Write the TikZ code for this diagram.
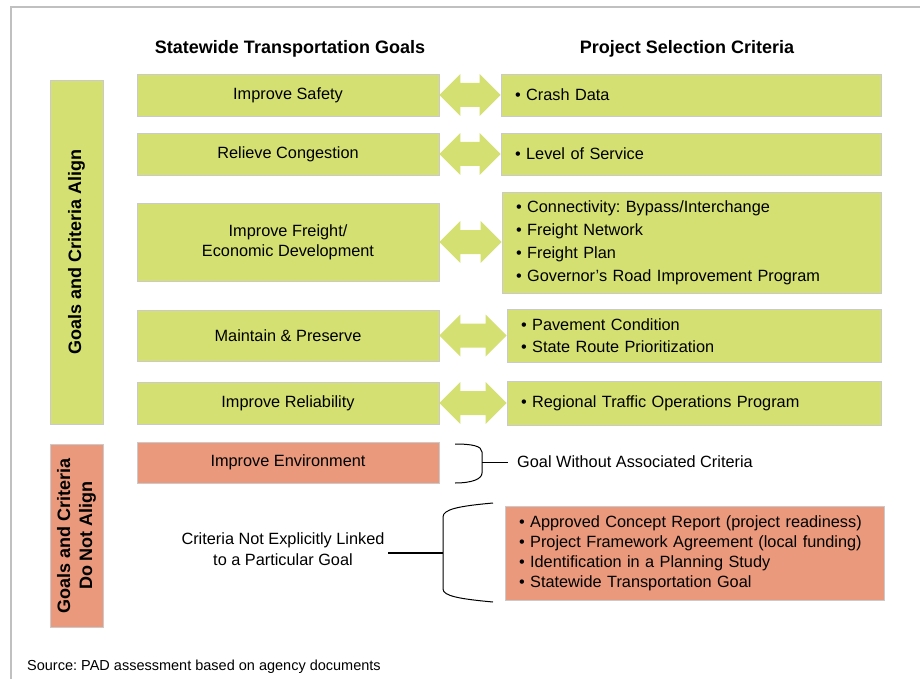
\documentclass[tikz,border=0pt]{standalone}
\usepackage{fontspec}
\setmainfont{Liberation Sans}
\usetikzlibrary{calc}
\definecolor{goalgreen}{RGB}{212,224,114}
\definecolor{notorange}{RGB}{234,153,124}
\definecolor{edgegray}{RGB}{202,202,202}
\definecolor{framegray}{RGB}{192,192,192}
\frenchspacing

\begin{document}
\begin{tikzpicture}[x=1pt,y=-1pt,
		txt/.style={font=\fontsize{16.3}{20}\selectfont},
		box/.style={draw=edgegray,line width=0.8pt,inner sep=0pt,txt},
		goalbox/.style={box,fill=goalgreen,minimum width=302,align=center},
		critbox/.style={box,fill=goalgreen,inner xsep=14pt,align=left},
		sidebox/.style={box,fill=goalgreen,rotate=90,minimum height=53,align=center,font=\fontsize{18}{22}\selectfont\bfseries},
		head/.style={font=\fontsize{18}{22}\selectfont\bfseries},
		brace/.style={line width=1pt}]
				\useasboundingbox (0,0) rectangle (920,679);
				\draw[framegray,line width=1.4pt] (11,679)--(11,7)--(920,7);
				% column heads
				\node[head] (hgoal) at (290,49) {Statewide Transportation Goals};
				\node[head] (hcrit) at (687,49) {Project Selection Criteria};
				% side labels
				\node[sidebox,minimum width=344] (align) at (76.5,252) {Goals and Criteria Align};
				\node[sidebox,fill=notorange,minimum width=183] (noalign) at (76.5,535.5) {Goals and Criteria\\Do Not Align};
				% goals
				\node[goalbox,minimum height=42] (g1) at (288,95) {Improve Safety};
				\node[goalbox,minimum height=42] (g2) at (288,154) {Relieve Congestion};
				\node[goalbox,minimum height=78] (g3) at (288,242) {Improve Freight/\\Economic Development};
				\node[goalbox,minimum height=51] (g4) at (288,335.5) {Maintain \& Preserve};
				\node[goalbox,minimum height=42] (g5) at (288,403) {Improve Reliability};
				\node[goalbox,fill=notorange,minimum height=41] (g6) at (288,462.5) {Improve Environment};
				% criteria
				\node[critbox,text width=352,minimum height=42] (c1) at (691,95) {\textbullet\ Crash Data};
				\node[critbox,text width=352,minimum height=42] (c2) at (691,154) {\textbullet\ Level of Service};
				\node[critbox,text width=351,minimum height=101,font=\fontsize{16.3}{23}\selectfont] (c3) at (691.5,242.5) {\textbullet\ Connectivity: Bypass/Interchange\\\textbullet\ Freight Network\\\textbullet\ Freight Plan\\\textbullet\ Governor’s Road Improvement Program};
				\node[critbox,text width=346,minimum height=53,font=\fontsize{16.3}{22}\selectfont] (c4) at (694,335.5) {\textbullet\ Pavement Condition\\\textbullet\ State Route Prioritization};
				\node[critbox,text width=346,minimum height=44] (c5) at (694,403) {\textbullet\ Regional Traffic Operations Program};
				\node[critbox,fill=notorange,text width=351,minimum height=94] (c6) at (694.5,553) {\textbullet\ Approved Concept Report (project readiness)\\\textbullet\ Project Framework Agreement (local funding)\\\textbullet\ Identification in a Planning Study\\\textbullet\ Statewide Transportation Goal};
				% double arrows goal <-> criteria
				\foreach \g/\c in {g1/c1,g2/c2,g3/c3,g4/c4,g5/c5}
					\fill[goalgreen] let \p1=(\g.east), \p2=(\c.west) in
						(\x1,\y1)--(\x1+21pt,\y1+21pt)--(\x1+21pt,\y1+12pt)--(\x2-21pt,\y1+12pt)--(\x2-21pt,\y1+21pt)
						--(\x2,\y1)--(\x2-21pt,\y1-21pt)--(\x2-21pt,\y1-12pt)--(\x1+21pt,\y1-12pt)--(\x1+21pt,\y1-21pt)--cycle;
				% goal without criteria
				\node[txt,anchor=west,inner xsep=9pt] (nocrit) at (508,462) {Goal Without Associated Criteria};
				\coordinate (envbr) at (482,462);
				\draw[brace] (455,444) .. controls (472,444) and (482,446) .. (482,452)--(482,473) .. controls (482,479) and (472,483) .. (455,483);
				\draw[brace] (envbr)--(nocrit.west);
				% criteria without goal
				\node[txt,align=center,font=\fontsize{16.3}{21}\selectfont] (nogoal) at (283,549.5) {Criteria Not Explicitly Linked\\to a Particular Goal};
				\coordinate (critbr) at (443,553);
				\draw[brace] (493,503) .. controls (460,506) and (443,509) .. (443,517)--(443,589) .. controls (443,596) and (460,599) .. (493,602);
				\draw[line width=1.6pt] (critbr)--(critbr -| nogoal.east);
				\node[anchor=west,inner sep=0pt,font=\fontsize{14.5}{17}\selectfont] (src) at (27,667) {Source: PAD assessment based on agency documents};
			\end{tikzpicture}
\end{document}
